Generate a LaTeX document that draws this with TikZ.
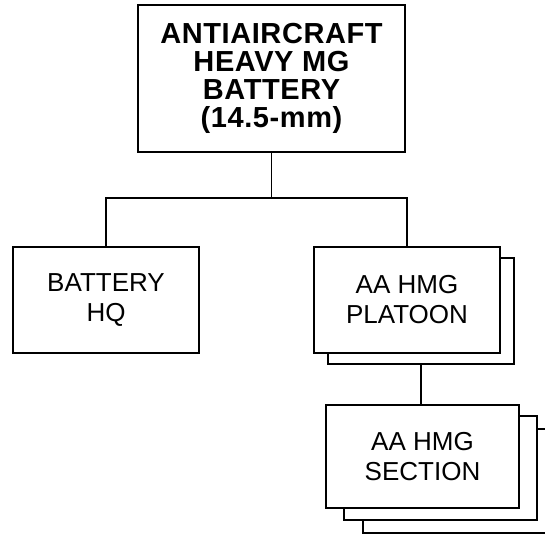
\documentclass[tikz,border=0pt]{standalone}
\usepackage{fontspec}
\setmainfont{Liberation Sans}
\usetikzlibrary{positioning}
\tikzset{
  unitbox/.style={draw,line width=2.4pt,fill=white,align=center,inner sep=0pt,
    minimum width=188pt,minimum height=106pt,font=\fontsize{26}{30}\selectfont},
  headbox/.style={unitbox,minimum width=267pt,minimum height=147pt,
    font=\bfseries\fontsize{29}{28}\selectfont\addfontfeature{LetterSpace=2}},
  link/.style={line width=1.8pt}
}

\begin{document}
\begin{tikzpicture}[x=1pt,y=-1pt]
    \useasboundingbox (0,0) rectangle (545,534);
    \clip (0,0) rectangle (545,534);
    % battery headquarters
    \node[headbox] (bat) at (271.5,78.5)
       {ANTIAIRCRAFT\\HEAVY MG\\BATTERY\\(14.5-mm)};
    \node[unitbox,minimum width=186pt] (hq) at (106,300) {BATTERY\\HQ};
    % platoons (stacked)
    \node[unitbox,minimum width=186pt] (pltB) at (421,311) {};
    \node[unitbox,minimum width=186pt] (plt) at (407,300) {AA HMG\\PLATOON};
    % sections (stacked)
    \node[unitbox,minimum width=193pt,minimum height=104pt] (secC) at (459.5,481) {};
    \node[unitbox,minimum width=193pt,minimum height=104pt] (secB) at (440.5,468) {};
    \node[unitbox,minimum width=193pt,minimum height=103pt] (sec) at (422.5,456.5) {AA HMG\\SECTION};
    \coordinate (fork) at (271.5,198);
    \draw[link] (bat.south) -- (fork);
    \draw[link] (fork) -| (hq.north);
    \draw[link] (fork) -| (plt.north);
    \draw[link] (pltB.south) -- (pltB.south |- sec.north);
\end{tikzpicture}
\end{document}
